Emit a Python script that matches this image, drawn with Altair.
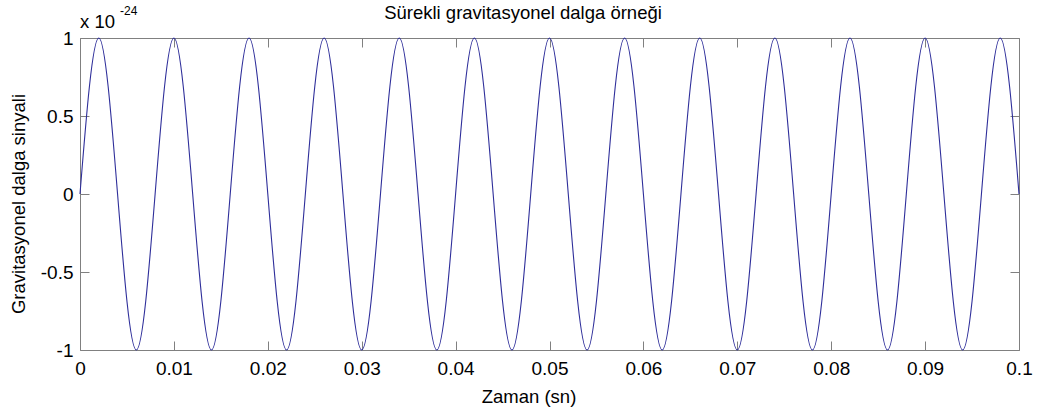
import altair as alt
import pandas as pd

# time samples (s) at quarter periods of the 125 Hz wave
t_vals = [0.000, 0.002, 0.004, 0.006, 0.008, 0.010, 0.012, 0.014, 0.016, 0.018,
          0.020, 0.022, 0.024, 0.026, 0.028, 0.030, 0.032, 0.034, 0.036, 0.038,
          0.040, 0.042, 0.044, 0.046, 0.048, 0.050, 0.052, 0.054, 0.056, 0.058,
          0.060, 0.062, 0.064, 0.066, 0.068, 0.070, 0.072, 0.074, 0.076, 0.078,
          0.080, 0.082, 0.084, 0.086, 0.088, 0.090, 0.092, 0.094, 0.096, 0.098,
          0.100]
# signal in units of 1e-24
h_vals = [0, 1, 0, -1, 0, 1, 0, -1, 0, 1,
          0, -1, 0, 1, 0, -1, 0, 1, 0, -1,
          0, 1, 0, -1, 0, 1, 0, -1, 0, 1,
          0, -1, 0, 1, 0, -1, 0, 1, 0, -1,
          0, 1, 0, -1, 0, 1, 0, -1, 0, 1,
          0]
x_ticks = [0, 0.01, 0.02, 0.03, 0.04, 0.05, 0.06, 0.07, 0.08, 0.09, 0.1]
y_ticks = [-1, -0.5, 0, 0.5, 1]

title_text = "Sürekli gravitasyonel dalga örneği"
x_title = "Zaman (sn)"
y_title = "Gravitasyonel dalga sinyali"

df = pd.DataFrame({"t": t_vals, "h": h_vals})

FONT = "Liberation Sans"
GRAY = "#808080"
W, H = 939, 312

xs = alt.Scale(domain=[0, 0.1], nice=False, zero=False)
ys = alt.Scale(domain=[-1, 1], nice=False, zero=False)


def ax(orient, labels, ticks, offset=0):
    kw = dict(orient=orient, values=x_ticks if orient in ("bottom", "top") else y_ticks,
              title=None, grid=False, domain=False, labels=labels, ticks=ticks)
    if labels:
        kw.update(labelFont=FONT, labelFontSize=19, labelColor="black",
                  labelFlush=False, labelOverlap=False,
                  labelExpr="'' + datum.value", labelPadding=9 if orient == "bottom" else 7)
    if ticks:
        kw.update(tickSize=9, tickColor=GRAY, tickWidth=1, offset=offset)
    return alt.Axis(**kw)


base = alt.Chart(df)

line = base.mark_line(interpolate="natural", color="#2e2e9a", strokeWidth=1.1).encode(
    x=alt.X("t:Q", scale=xs, axis=ax("bottom", True, False)),
    y=alt.Y("h:Q", scale=ys, axis=ax("left", True, False)),
)

ticks_bl = base.mark_line(opacity=0).encode(
    x=alt.X("t:Q", scale=xs, axis=ax("bottom", False, True, -9)),
    y=alt.Y("h:Q", scale=ys, axis=ax("left", False, True, -9)),
)

ticks_tr = base.mark_line(opacity=0).encode(
    x=alt.X("t:Q", scale=xs, axis=ax("top", False, True, -9)),
    y=alt.Y("h:Q", scale=ys, axis=ax("right", False, True, -9)),
)

lbl = pd.DataFrame({"s": [0]})


def txt(s, x, y, size, angle=0, align="left"):
    return alt.Chart(lbl).mark_text(
        text=s, font=FONT, fontSize=size, color="black", align=align,
        baseline="alphabetic", angle=angle
    ).encode(x=alt.value(x), y=alt.value(y))


texts = [
    txt(title_text, 443, -19, 18.5, align="center"),
    txt("x 10", 0, -10, 18.5),
    txt("-24", 40, -23, 12),
    txt(x_title, 449, 365, 18.5, align="center"),
    txt(y_title, -55, 166, 18.5, angle=270, align="center"),
]

chart = alt.layer(line, ticks_bl, ticks_tr, *texts).resolve_axis(
    x="independent", y="independent"
).properties(
    width=W, height=H,
    autosize=alt.AutoSizeParams(type="none"),
    padding={"left": 80, "top": 38, "right": 23, "bottom": 67},
    background="white",
).configure_view(stroke=GRAY, strokeWidth=1)

chart.save("out.html", embed_options={"renderer": "svg", "actions": False})
